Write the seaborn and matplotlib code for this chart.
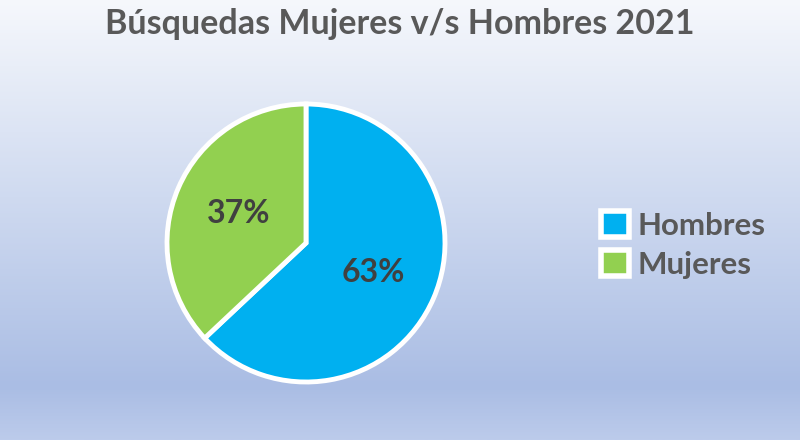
import numpy as np
import matplotlib
matplotlib.use("Agg")
import matplotlib.pyplot as plt
from matplotlib.colors import LinearSegmentedColormap
from matplotlib.patches import Patch
import seaborn as sns

# Data
categories = ["Hombres", "Mujeres"]
values = [63, 37]
colors = ["#00B0F0", "#92D050"]
title = "Búsquedas Mujeres v/s Hombres 2021"

sns.set_style("white")
plt.rcParams['font.family'] = ['Lato', 'DejaVu Sans']

W, H = 800, 440
fig = plt.figure(figsize=(W / 100, H / 100), dpi=100)

# Background gradient
bg = fig.add_axes([0, 0, 1, 1])
cmap = LinearSegmentedColormap.from_list(
    "bg", [(0.0, "#F6F8FC"), (0.45, "#CFDAF0"), (0.88, "#AABDE4"), (1.0, "#BCCBEB")])
grad = np.linspace(0, 1, 256).reshape(-1, 1)
bg.imshow(grad, aspect="auto", cmap=cmap, extent=[0, 1, 0, 1], origin="upper")
bg.set_axis_off()

# Pie axes
cx, cy, r = 306, 243, 139
ax = fig.add_axes([(cx - r) / W, 1 - (cy + r) / H, 2 * r / W, 2 * r / H])
ax.set_facecolor("none")
wedges, texts, autotexts = ax.pie(
    values, colors=colors, startangle=90, counterclock=False,
    autopct=lambda p: f"{p:.0f}%", pctdistance=0.53, radius=1,
    wedgeprops=dict(edgecolor="white", linewidth=3.5),
    textprops=dict(color="#404040", fontsize=23, fontweight="bold"))
ax.set_xlim(-1, 1)
ax.set_ylim(-1, 1)
ax.set_aspect("auto")
ax.set_axis_off()

fig.text(0.5, 1 - 24 / H, title, ha="center", va="center",
         fontsize=24.5, fontweight="bold", color="#595959")

handles = [Patch(facecolor=c, edgecolor="white", linewidth=4) for c in colors]
leg = fig.legend(handles, categories, loc="center left",
                 bbox_to_anchor=(573 / W, 1 - 245 / H), frameon=False,
                 prop=dict(weight="bold", size=22.5),
                 handlelength=0.9, handleheight=0.9,
                 handletextpad=0.25, labelspacing=0.35)
for t in leg.get_texts():
    t.set_color("#595959")

fig.savefig("out.png", dpi=100)
